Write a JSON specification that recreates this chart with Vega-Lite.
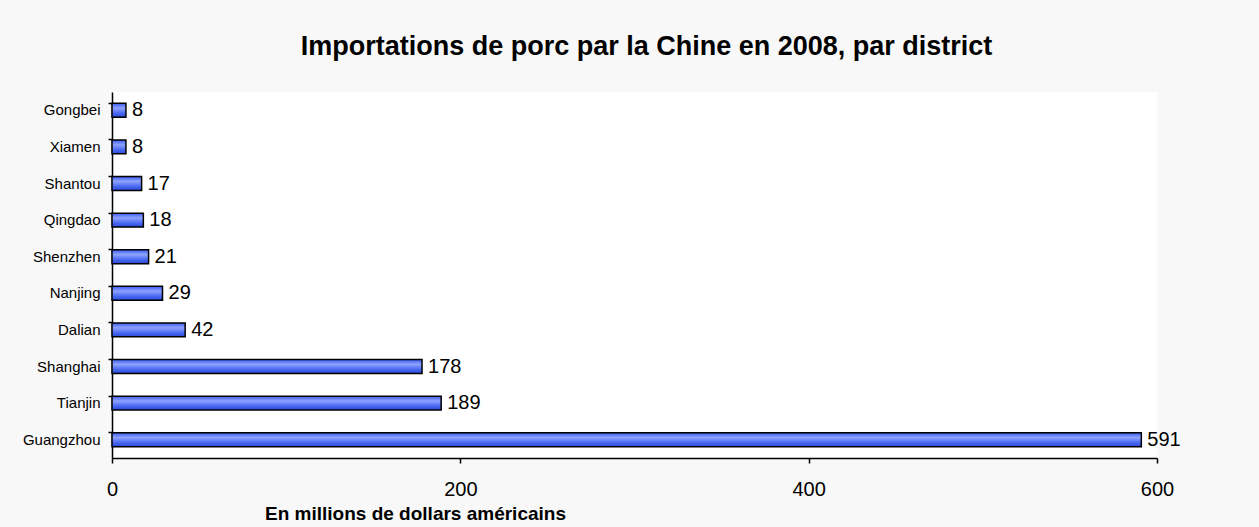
{
  "$schema": "https://vega.github.io/schema/vega-lite/v6.json",
  "autosize": {"type": "none"},
  "padding": {"left": 112, "top": 92, "right": 102, "bottom": 69},
  "width": 1045,
  "height": 366,
  "background": "#f8f8f8",
  "title": {
    "text": "Importations de porc par la Chine en 2008, par district",
    "font": "Liberation Sans",
    "fontSize": 27,
    "fontWeight": "bold",
    "color": "#000000",
    "anchor": "middle",
    "dx": 12,
    "offset": 31
  },
  "config": {
    "view": {"fill": "#ffffff", "stroke": null},
    "font": "Liberation Sans"
  },
  "data": {
    "values": [
      {"district": "Gongbei", "value": 8},
      {"district": "Xiamen", "value": 8},
      {"district": "Shantou", "value": 17},
      {"district": "Qingdao", "value": 18},
      {"district": "Shenzhen", "value": 21},
      {"district": "Nanjing", "value": 29},
      {"district": "Dalian", "value": 42},
      {"district": "Shanghai", "value": 178},
      {"district": "Tianjin", "value": 189},
      {"district": "Guangzhou", "value": 591}
    ]
  },
  "encoding": {
    "y": {
      "field": "district",
      "type": "nominal",
      "sort": ["Gongbei", "Xiamen", "Shantou", "Qingdao", "Shenzhen", "Nanjing", "Dalian", "Shanghai", "Tianjin", "Guangzhou"],
      "scale": {"paddingInner": 0.62, "paddingOuter": 0.31},
      "axis": {
        "title": null,
        "bandPosition": 0,
        "domainColor": "#000000",
        "domainWidth": 1.5,
        "tickColor": "#000000",
        "tickWidth": 1.5,
        "tickSize": 4,
        "labelFontSize": 15,
        "labelColor": "#000000",
        "labelPadding": 8,
        "grid": false
      }
    },
    "x": {
      "field": "value",
      "type": "quantitative",
      "scale": {"domain": [0, 600], "nice": false},
      "axis": {
        "values": [0, 200, 400, 600],
        "title": "En millions de dollars américains",
        "titleFontSize": 19,
        "titleFontWeight": "bold",
        "titleColor": "#000000",
        "titleX": 303,
        "titleY": 55,
        "titleAlign": "center",
        "titleBaseline": "middle",
        "titlePadding": 0,
        "domainColor": "#000000",
        "domainWidth": 1.5,
        "tickColor": "#000000",
        "tickWidth": 1.5,
        "tickSize": 5,
        "labelFontSize": 20,
        "labelColor": "#000000",
        "labelPadding": 16,
        "labelFlush": false,
        "grid": false
      }
    }
  },
  "layer": [
    {
      "mark": {
        "type": "bar",
        "stroke": "#000000",
        "strokeWidth": 1.5,
        "color": {
          "gradient": "linear",
          "x1": 0, "y1": 0, "x2": 0, "y2": 1,
          "stops": [
            {"offset": 0, "color": "#3a5cf0"},
            {"offset": 0.35, "color": "#8fa2ff"},
            {"offset": 0.7, "color": "#4a6af2"},
            {"offset": 1, "color": "#2a48d8"}
          ]
        }
      }
    },
    {
      "mark": {"type": "text", "align": "left", "baseline": "middle", "dx": 6, "fontSize": 20, "color": "#000000"},
      "encoding": {"text": {"field": "value", "type": "quantitative"}}
    }
  ]
}
